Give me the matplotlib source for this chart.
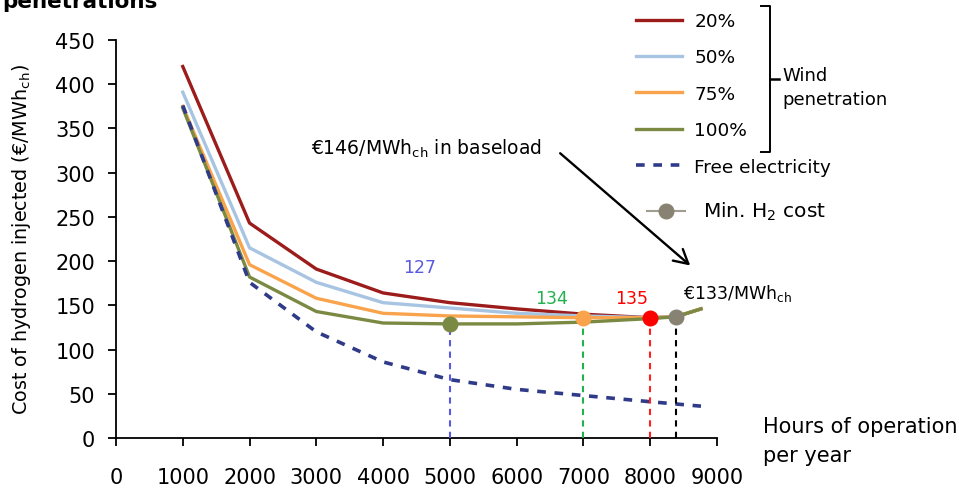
import matplotlib
matplotlib.use("Agg")
import matplotlib.pyplot as plt
from matplotlib.lines import Line2D

plt.rcParams['font.family'] = ['DejaVu Sans']
plt.rcParams['mathtext.default'] = 'regular'

# data
hours = [1000, 2000, 3000, 4000, 5000, 6000, 7000, 8000, 8380, 8760]
cost_20 = [420, 243, 191, 164, 153, 146, 140, 136, 137, 146]
cost_50 = [391, 215, 176, 153, 147, 141, 138, 136, 137, 146]
cost_75 = [375, 196, 158, 141, 138, 137, 136, 136, 137, 146]
cost_100 = [373, 182, 143, 130, 129, 129, 131, 135, 137, 146]
hours_free = [1000, 2000, 3000, 4000, 5000, 6000, 7000, 8000, 8760]
free_elec = [376, 176, 120, 86, 66, 55, 48, 41, 36]

min_hours = [5000, 7000, 8000, 8380]
min_cost = [129, 136, 136, 137]
min_labels = ["127", "134", "135", "€133/MWh$_{ch}$"]

W, H = 959, 489
def fx(x): return x / W
def fy(y): return 1 - y / H

fig = plt.figure(figsize=(9.59, 4.89), dpi=100)
ax = fig.add_axes([fx(116), fy(439), fx(717) - fx(116), fy(41) - fy(439)])

l20, = ax.plot(hours, cost_20, color='#9c1c1c', lw=2.4, label='20%')
l50, = ax.plot(hours, cost_50, color='#a7c4e2', lw=2.4, label='50%')
l75, = ax.plot(hours, cost_75, color='#f9a44c', lw=2.4, label='75%')
l100, = ax.plot(hours, cost_100, color='#7a8a42', lw=2.4, label='100%')
lfree, = ax.plot(hours_free, free_elec, color='#2f3b88', lw=2.6,
                 linestyle=(0, (2.4, 2.4)), label='Free electricity')

# minimum cost points with drop lines
dot_colors = ['#7a8a42', '#f9a44c', '#ff0000', '#878272']
drop_colors = ['#5a5ae0', '#22b14c', '#ff2020', 'black']
for h, c, dc, vc in zip(min_hours, min_cost, dot_colors, drop_colors):
    ax.plot([h, h], [0, c], color=vc, lw=1.5, linestyle=(0, (3, 2.5)), zorder=3)
    ax.plot(h, c, 'o', color=dc, ms=10.5, zorder=5)

ax.text(4550, 193, min_labels[0], color='#5a5ae0', fontsize=12.5, ha='center', va='center')
ax.text(6530, 158, min_labels[1], color='#22b14c', fontsize=12.5, ha='center', va='center')
ax.text(7725, 158, min_labels[2], color='#ff0000', fontsize=12.5, ha='center', va='center')
ax.text(8490, 165, min_labels[3], color='black', fontsize=12.5, ha='left', va='center')

ax.text(2920, 328, "€146/MWh$_{ch}$ in baseload", fontsize=13.5, ha='left', va='center')
ax.annotate("", xy=(8630, 193), xytext=(6620, 324),
            arrowprops=dict(arrowstyle='->,head_length=1.0,head_width=0.55', color='black', lw=1.7),
            annotation_clip=False)

ax.set_xlim(0, 9000)
ax.set_ylim(0, 450)
ax.set_xticks(range(0, 9001, 1000))
ax.set_yticks(range(0, 451, 50))
ax.spines['top'].set_visible(False)
ax.spines['right'].set_visible(False)
for s in ['left', 'bottom']:
    ax.spines[s].set_linewidth(1.3)
ax.tick_params(axis='both', labelsize=15, length=6, width=1.3, direction='out')
ax.tick_params(axis='x', pad=15)
ax.tick_params(axis='y', pad=9)

fig.text(fx(22), fy(240), "Cost of hydrogen injected (€/MWh$_{ch}$)", rotation=90,
         fontsize=13.8, ha='center', va='center')
fig.text(fx(763), fy(427), "Hours of operation", fontsize=15, ha='left', va='center')
fig.text(fx(763), fy(456), "per year", fontsize=15, ha='left', va='center')

fig.text(fx(2), fy(8), "penetrations", fontsize=15.5, fontweight='bold', ha='left', va='baseline')

leg = ax.legend(handles=[l20, l50, l75, l100, lfree], loc='upper left',
                bbox_to_anchor=(fx(636), fy(13)), bbox_transform=fig.transFigure,
                frameon=False, fontsize=13.3, handlelength=2.5, handletextpad=0.65,
                labelspacing=1.0, borderpad=0, borderaxespad=0)

# bracket for wind penetration
bx = [fx(761), fx(770), fx(770), fx(761)]
by = [fy(7), fy(7), fy(153), fy(153)]
fig.add_artist(Line2D(bx, by, color='black', lw=1.4, transform=fig.transFigure))
fig.add_artist(Line2D([fx(770), fx(779)], [fy(80), fy(80)], color='black', lw=1.8,
                      transform=fig.transFigure))
fig.text(fx(782), fy(88), "Wind\npenetration", fontsize=13, ha='left', va='center',
         linespacing=1.45)

# min H2 cost key
fig.add_artist(Line2D([fx(647), fx(685)], [fy(212), fy(212)], color='#a09c90', lw=1.5,
                      transform=fig.transFigure))
fig.add_artist(Line2D([fx(666)], [fy(212)], marker='o', ms=10.5, color='#878272',
                      transform=fig.transFigure))
fig.text(fx(703), fy(212), "Min. H$_2$ cost", fontsize=14.5, ha='left', va='center')

plt.savefig("out.png", dpi=100)
